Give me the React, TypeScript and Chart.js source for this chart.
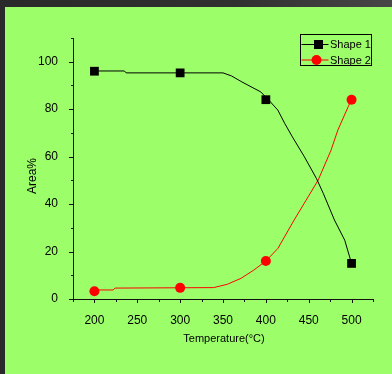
import React, { useEffect, useRef } from "react";
import { Chart, registerables } from "chart.js";

Chart.register(...registerables);

// Temperatures where markers are placed
const temperatures = [200, 300, 400, 500];
// Marker values (Area %)
const shape1Values = [96, 95.3, 84, 15];
const shape2Values = [3.3, 4.7, 16, 84];

// Curve points
const shape1CurveT = [200, 235, 237, 350, 360, 372, 385, 394, 403, 414, 422, 431, 445, 459, 467, 480, 492, 500];
const shape1CurveV = [96.1, 96.1, 95.3, 95.3, 94, 91.5, 89, 87.3, 84, 79.6, 74, 68.3, 59.9, 50.8, 44.5, 33.3, 24.8, 15];
const shape2CurveT = [200, 222, 224, 339, 355, 371, 386, 400, 414, 433, 447, 461, 476, 484, 496, 500];
const shape2CurveV = [3.8, 3.8, 4.6, 4.8, 6.2, 8.7, 12.2, 16, 21.3, 33.3, 41.7, 50.1, 62.7, 71.2, 81, 84];

const seriesNames = ["Shape 1", "Shape 2"];
const xTitle = "Temperature(°C)";
const yTitle = "Area%";

const FONT = "'Liberation Sans', Arial, sans-serif";

const decorPlugin = {
  id: "decor",
  afterDraw(chart: any) {
    const { ctx, chartArea, scales } = chart;
    const xs = scales.x;
    const ys = scales.y;
    ctx.save();
    ctx.strokeStyle = "#111";
    ctx.lineWidth = 1;
    // x ticks
    for (let v = 175; v <= 525; v += 25) {
      const px = Math.round(xs.getPixelForValue(v)) + 0.5;
      const len = v % 50 === 0 ? 4 : 3;
      ctx.beginPath();
      ctx.moveTo(px, chartArea.bottom);
      ctx.lineTo(px, chartArea.bottom + len);
      ctx.stroke();
    }
    // y ticks
    for (let v = 0; v <= 110; v += 10) {
      const py = Math.round(ys.getPixelForValue(v)) + 0.5;
      const len = v % 20 === 0 ? 4 : 2;
      ctx.beginPath();
      ctx.moveTo(chartArea.left, py);
      ctx.lineTo(chartArea.left - len, py);
      ctx.stroke();
    }
    // axis titles
    ctx.fillStyle = "#000";
    ctx.font = `11px ${FONT}`;
    ctx.textAlign = "center";
    ctx.textBaseline = "middle";
    ctx.fillText(xTitle, (chartArea.left + chartArea.right) / 2 + 1, 339);
    ctx.save();
    ctx.translate(33, 176);
    ctx.rotate(-Math.PI / 2);
    ctx.font = `12px ${FONT}`;
    ctx.fillText(yTitle, 0, 0);
    ctx.restore();

    // legend
    const bx = chartArea.right - 72.5;
    const by = chartArea.top - 3.5;
    const bw = 71;
    const bh = 31;
    ctx.strokeStyle = "#000";
    ctx.lineWidth = 1;
    ctx.strokeRect(bx, by, bw, bh);
    const rows = [
      { y: by + 10, color: "#000", style: "rect" },
      { y: by + 25.5, color: "#ff0000", style: "circle" },
    ];
    ctx.font = `11px ${FONT}`;
    ctx.textAlign = "left";
    rows.forEach((r, i) => {
      ctx.strokeStyle = r.color;
      ctx.beginPath();
      ctx.moveTo(bx + 1, r.y);
      ctx.lineTo(bx + 28, r.y);
      ctx.stroke();
      ctx.fillStyle = r.color;
      if (r.style === "rect") {
        ctx.fillRect(bx + 13.5, r.y - 4.5, 9, 9);
      } else {
        ctx.beginPath();
        ctx.arc(bx + 16, r.y, 5, 0, Math.PI * 2);
        ctx.fill();
      }
      ctx.fillStyle = "#000";
      ctx.fillText(seriesNames[i], bx + 29.5, r.y + 0.5);
    });
    ctx.restore();
  },
};

export default function App() {
  const ref = useRef<HTMLCanvasElement>(null);
  useEffect(() => {
    if (!ref.current) return;
    const toXY = (t: number[], v: number[]) => t.map((x, i) => ({ x, y: v[i] }));
    const chart = new Chart(ref.current, {
      type: "line",
      data: {
        datasets: [
          {
            label: "curve1",
            data: toXY(shape1CurveT, shape1CurveV),
            borderColor: "#000",
            borderWidth: 1,
            pointRadius: 0,
            tension: 0,
          },
          {
            label: "curve2",
            data: toXY(shape2CurveT, shape2CurveV),
            borderColor: "#ff0000",
            borderWidth: 1,
            pointRadius: 0,
            tension: 0,
          },
          {
            label: seriesNames[0],
            data: toXY(temperatures, shape1Values),
            showLine: false,
            pointStyle: "rect",
            pointRadius: 6.2,
            backgroundColor: "#000",
            borderColor: "#000",
            borderWidth: 0,
          },
          {
            label: seriesNames[1],
            data: toXY(temperatures, shape2Values),
            showLine: false,
            pointStyle: "circle",
            pointRadius: 5,
            backgroundColor: "#ff0000",
            borderColor: "#ff0000",
            borderWidth: 0,
          },
        ],
      },
      options: {
        animation: false,
        responsive: false,
        devicePixelRatio: 1,
        layout: { padding: { top: 38, right: 19, left: 0, bottom: 0 } },
        plugins: {
          legend: { display: false },
          tooltip: { enabled: false },
        },
        scales: {
          x: {
            type: "linear",
            min: 175,
            max: 525,
            afterFit: (s: any) => {
              s.height = 75;
            },
            afterBuildTicks: (s: any) => {
              s.ticks = [200, 250, 300, 350, 400, 450, 500].map((v) => ({ value: v }));
            },
            grid: { display: false },
            border: { display: true, color: "#111", width: 1 },
            ticks: {
              color: "#000",
              padding: 6,
              font: { family: FONT, size: 12 },
              maxRotation: 0,
            },
          },
          y: {
            type: "linear",
            min: 0,
            max: 110,
            afterFit: (s: any) => {
              s.width = 73;
            },
            afterBuildTicks: (s: any) => {
              s.ticks = [0, 20, 40, 60, 80, 100].map((v) => ({ value: v }));
            },
            grid: { display: false },
            border: { display: true, color: "#111", width: 1 },
            ticks: {
              color: "#000",
              padding: 7,
              font: { family: FONT, size: 12 },
            },
          },
        },
      },
      plugins: [decorPlugin],
    });
    return () => chart.destroy();
  }, []);

  return (
    <div
      style={{
        position: "fixed",
        left: 0,
        top: 0,
        width: 392,
        height: 374,
        background: "linear-gradient(90deg, #2a2a2a 0%, #303030 60%, #474747 100%)",
        overflow: "hidden",
      }}
    >
      <div
        style={{
          position: "absolute",
          left: 5,
          top: 7,
          right: 0,
          bottom: 0,
          background: "#9cff6a",
        }}
      />
      <canvas
        ref={ref}
        width={392}
        height={374}
        style={{ position: "absolute", left: 0, top: 0, width: 392, height: 374 }}
      />
    </div>
  );
}
